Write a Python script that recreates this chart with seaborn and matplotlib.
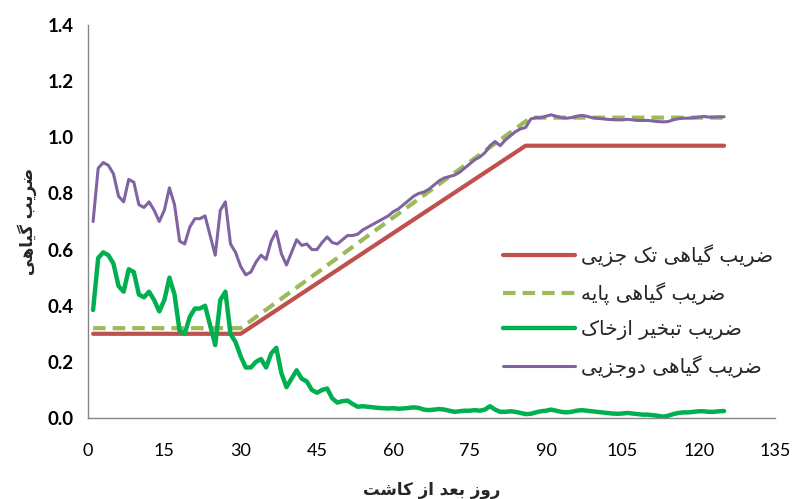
import matplotlib
matplotlib.use("Agg")
import matplotlib.pyplot as plt
import pandas as pd
import seaborn as sns

# ---- data ----
days = list(range(1, 126))

kc_single_days = [1, 30, 86, 125]
kc_single = [0.30, 0.30, 0.97, 0.97]

kcb_days = [1, 30, 87, 125]
kcb = [0.32, 0.32, 1.07, 1.07]

ke = [0.385, 0.57, 0.59, 0.58, 0.55, 0.47, 0.45, 0.53, 0.52, 0.44,
      0.43, 0.45, 0.42, 0.38, 0.42, 0.50, 0.44, 0.31, 0.30, 0.36,
      0.39, 0.39, 0.40, 0.33, 0.26, 0.42, 0.45, 0.30, 0.27, 0.22,
      0.18, 0.18, 0.20, 0.21, 0.18, 0.23, 0.25, 0.16, 0.11, 0.14,
      0.17, 0.14, 0.13, 0.10, 0.09, 0.10, 0.105, 0.07, 0.055, 0.06,
      0.062, 0.05, 0.04, 0.042, 0.04, 0.038, 0.036, 0.035, 0.034, 0.035,
      0.033, 0.034, 0.036, 0.038, 0.036, 0.03, 0.028, 0.03, 0.032, 0.03,
      0.026, 0.022, 0.024, 0.026, 0.026, 0.028, 0.026, 0.03, 0.042, 0.03,
      0.022, 0.022, 0.024, 0.022, 0.018, 0.014, 0.015, 0.02, 0.024, 0.026,
      0.03, 0.026, 0.022, 0.02, 0.022, 0.026, 0.028, 0.026, 0.024, 0.022,
      0.02, 0.018, 0.016, 0.015, 0.016, 0.018, 0.016, 0.014, 0.012, 0.012,
      0.01, 0.008, 0.005, 0.008, 0.014, 0.018, 0.02, 0.02, 0.022, 0.024,
      0.024, 0.022, 0.022, 0.024, 0.025]

kc_dual = [0.70, 0.89, 0.91, 0.90, 0.87, 0.79, 0.77, 0.85, 0.84, 0.76,
           0.75, 0.77, 0.74, 0.70, 0.74, 0.82, 0.76, 0.63, 0.62, 0.68,
           0.71, 0.71, 0.72, 0.65, 0.58, 0.74, 0.77, 0.62, 0.59, 0.54,
           0.51, 0.52, 0.555, 0.58, 0.565, 0.63, 0.665, 0.585, 0.545, 0.59,
           0.635, 0.615, 0.62, 0.60, 0.60, 0.625, 0.645, 0.625, 0.62, 0.635,
           0.65, 0.65, 0.655, 0.67, 0.68, 0.69, 0.70, 0.71, 0.72, 0.735,
           0.745, 0.76, 0.775, 0.79, 0.80, 0.805, 0.815, 0.83, 0.845, 0.855,
           0.86, 0.865, 0.875, 0.89, 0.905, 0.92, 0.93, 0.945, 0.97, 0.985,
           0.97, 0.99, 1.005, 1.02, 1.03, 1.035, 1.065, 1.07, 1.07, 1.075,
           1.08, 1.075, 1.07, 1.068, 1.07, 1.075, 1.078, 1.075, 1.07, 1.068,
           1.066, 1.064, 1.063, 1.062, 1.062, 1.064, 1.062, 1.06, 1.06, 1.06,
           1.058, 1.056, 1.055, 1.056, 1.062, 1.066, 1.068, 1.068, 1.07, 1.072,
           1.074, 1.072, 1.072, 1.073, 1.073]

labels = ["ضریب گیاهی تک جزیی", "ضریب گیاهی پایه", "ضریب تبخیر ازخاک", "ضریب گیاهی دوجزیی"]
x_label = "روز بعد از کاشت"
y_label = "ضریب گیاهی"
x_ticks = list(range(0, 136, 15))
y_ticks = [0.0, 0.2, 0.4, 0.6, 0.8, 1.0, 1.2, 1.4]


# matplotlib has no Arabic shaping: pick presentation forms and reverse
FORMS = {  # isolated, final, initial, medial
    "ا": ("\uFE8D", "\uFE8E", None, None),
    "ب": ("\uFE8F", "\uFE90", "\uFE91", "\uFE92"),
    "پ": ("\uFB56", "\uFB57", "\uFB58", "\uFB59"),
    "ت": ("\uFE95", "\uFE96", "\uFE97", "\uFE98"),
    "ج": ("\uFE9D", "\uFE9E", "\uFE9F", "\uFEA0"),
    "خ": ("\uFEA5", "\uFEA6", "\uFEA7", "\uFEA8"),
    "د": ("\uFEA9", "\uFEAA", None, None),
    "ر": ("\uFEAD", "\uFEAE", None, None),
    "ز": ("\uFEAF", "\uFEB0", None, None),
    "ش": ("\uFEB5", "\uFEB6", "\uFEB7", "\uFEB8"),
    "ض": ("\uFEBD", "\uFEBE", "\uFEBF", "\uFEC0"),
    "ع": ("\uFEC9", "\uFECA", "\uFECB", "\uFECC"),
    "ک": ("\uFB8E", "\uFB8F", "\uFB90", "\uFB91"),
    "گ": ("\uFB92", "\uFB93", "\uFB94", "\uFB95"),
    "ه": ("\uFEE9", "\uFEEA", "\uFEEB", "\uFEEC"),
    "و": ("\uFEED", "\uFEEE", None, None),
    "ی": ("\uFBFC", "\uFBFD", "\uFBFE", "\uFBFF"),
}


def fa(text):
    out = []
    for i, ch in enumerate(text):
        if ch not in FORMS:
            out.append(ch)
            continue
        prev = text[i - 1] if i > 0 else " "
        nxt = text[i + 1] if i + 1 < len(text) else " "
        joins_prev = prev in FORMS and FORMS[prev][2] is not None
        joins_next = nxt in FORMS and FORMS[ch][2] is not None
        iso, fin, ini, med = FORMS[ch]
        if joins_prev and joins_next:
            out.append(med)
        elif joins_prev:
            out.append(fin)
        elif joins_next:
            out.append(ini)
        else:
            out.append(iso)
    return "".join(reversed(out))


rows = []
for d, v in zip(kc_single_days, kc_single):
    rows.append((d, v, labels[0]))
for d, v in zip(kcb_days, kcb):
    rows.append((d, v, labels[1]))
for d, v in zip(days, ke):
    rows.append((d, v, labels[2]))
for d, v in zip(days, kc_dual):
    rows.append((d, v, labels[3]))
df = pd.DataFrame(rows, columns=["day", "value", "series"])

sns.set_theme(style="white")
plt.rcParams["font.family"] = ["Lato", "DejaVu Sans"]

colors = ["#C0504D", "#9BBB59", "#00B050", "#8064A2"]
widths = [3.0, 3.0, 3.2, 2.2]
styles = ["-", (0, (3.0, 1.7)), "-", "-"]

fig = plt.figure(figsize=(8.03, 4.99), dpi=100)
ax = fig.add_axes([0.1096, 0.1623, 0.8555, 0.7876])

for name, c, w, ls in zip(labels, colors, widths, styles):
    sub = df[df["series"] == name]
    sns.lineplot(data=sub, x="day", y="value", ax=ax, color=c, linewidth=w,
                 linestyle=ls, label=fa(name), estimator=None, sort=False,
                 solid_joinstyle="round", solid_capstyle="round")

ax.set_xlim(0, 135)
ax.set_ylim(0, 1.4)
ax.set_xticks(x_ticks)
ax.set_yticks(y_ticks)
ax.set_xticklabels([str(t) for t in x_ticks], fontsize=13, color="black")
ax.set_yticklabels([f"{t:.1f}" for t in y_ticks], fontsize=13.5, fontweight="bold", color="black")
ax.tick_params(axis="both", direction="out", length=5, width=1, color="#868686", pad=5)
ax.tick_params(axis="x", pad=13)

for s in ["top", "right"]:
    ax.spines[s].set_visible(False)
for s in ["left", "bottom"]:
    ax.spines[s].set_color("#868686")
    ax.spines[s].set_linewidth(1.0)

ax.set_xlabel(fa(x_label), fontsize=12, fontweight="bold", family="DejaVu Sans", labelpad=16)
ax.set_ylabel(fa(y_label), fontsize=12, fontweight="bold", family="DejaVu Sans", labelpad=8)

leg = ax.legend(loc="center left", bbox_to_anchor=(0.577, 0.272), frameon=False,
                handlelength=3.6, handletextpad=0.3, labelspacing=0.75,
                prop={"family": "DejaVu Sans", "size": 14.5})

fig.savefig("out.png", dpi=100)
